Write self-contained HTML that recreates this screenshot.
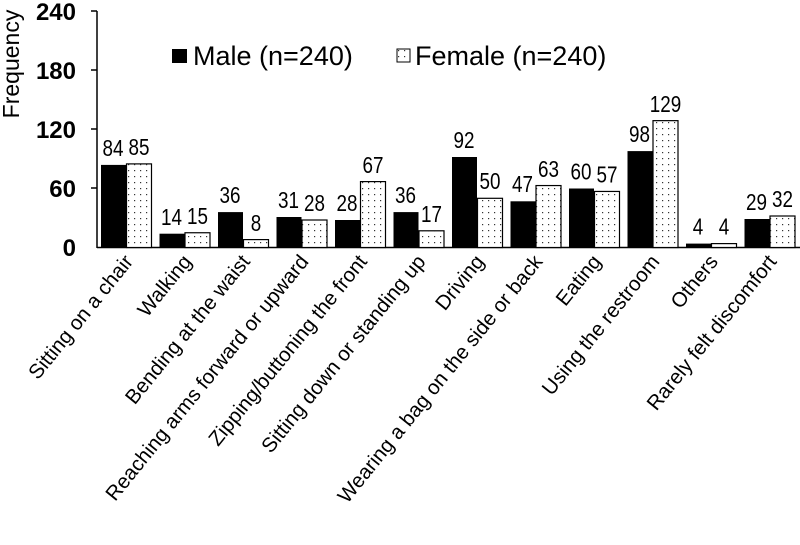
<!DOCTYPE html>
<html><head><meta charset="utf-8"><style>html,body{margin:0;padding:0;background:#fff}svg{display:block}</style></head>
<body>
<svg width="800" height="545" xmlns="http://www.w3.org/2000/svg" font-family="Liberation Sans, Arial, sans-serif">
<defs>
<pattern id="dots" width="6" height="6" patternUnits="userSpaceOnUse">
<rect width="6" height="6" fill="#fff"/><rect x="2" y="2" width="1.2" height="1.2" fill="#333"/>
</pattern>
</defs>
<g font-weight="bold" font-size="24" text-anchor="end">
<text x="76" y="20">240</text>
<text x="76" y="79">180</text>
<text x="76" y="138">120</text>
<text x="76" y="197">60</text>
<text x="76" y="256">0</text>
</g>
<text transform="translate(19,64) rotate(-90)" font-size="23" text-anchor="middle">Frequency</text>
<line x1="97" y1="11" x2="97" y2="248" stroke="#000" stroke-width="1.5"/>
<line x1="97" y1="247.5" x2="800" y2="247.5" stroke="#000" stroke-width="1.5"/>
<g stroke="#000" stroke-width="1.5">
<line x1="91" y1="11" x2="97" y2="11"/><line x1="91" y1="70" x2="97" y2="70"/><line x1="91" y1="129" x2="97" y2="129"/><line x1="91" y1="188" x2="97" y2="188"/>
</g>
<rect x="172" y="49" width="15" height="14" fill="#000"/>
<text x="193" y="65" font-size="27">Male (n=240)</text>
<rect x="397" y="49" width="13" height="13" fill="url(#dots)" stroke="#000" stroke-width="1"/>
<text x="415" y="65" font-size="27">Female (n=240)</text>

<g fill="#000">
<rect x="101" y="164.9" width="25" height="82.6"/>
<rect x="159.5" y="233.7" width="25" height="13.8"/>
<rect x="218" y="212.1" width="25" height="35.4"/>
<rect x="276.5" y="217" width="25" height="30.5"/>
<rect x="335" y="220" width="25" height="27.5"/>
<rect x="393.5" y="212.1" width="25" height="35.4"/>
<rect x="452" y="157" width="25" height="90.5"/>
<rect x="510.5" y="201.3" width="25" height="46.2"/>
<rect x="569" y="188.5" width="25" height="59"/>
<rect x="627.5" y="151.1" width="25" height="96.4"/>
<rect x="686" y="243.6" width="25" height="3.9"/>
<rect x="744.5" y="219" width="25" height="28.5"/>
</g>
<g fill="url(#dots)" stroke="#000" stroke-width="1.2">
<rect x="126.5" y="163.9" width="25" height="83.6"/>
<rect x="185" y="232.75" width="25" height="14.75"/>
<rect x="243.5" y="239.6" width="25" height="7.9"/>
<rect x="302" y="220" width="25" height="27.5"/>
<rect x="360.5" y="181.6" width="25" height="65.9"/>
<rect x="419" y="230.8" width="25" height="16.7"/>
<rect x="477.5" y="198.3" width="25" height="49.2"/>
<rect x="536" y="185.55" width="25" height="61.95"/>
<rect x="594.5" y="191.45" width="25" height="56.05"/>
<rect x="653" y="120.65" width="25" height="126.85"/>
<rect x="711.5" y="243.6" width="25" height="3.9"/>
<rect x="770" y="216" width="25" height="31.5"/>
</g>
<g font-size="23" text-anchor="middle">
<g transform="translate(113,156) scale(.82,1)"><text>84</text></g>
<g transform="translate(139,155) scale(.82,1)"><text>85</text></g>
<g transform="translate(171.5,225) scale(.82,1)"><text>14</text></g>
<g transform="translate(197.5,224) scale(.82,1)"><text>15</text></g>
<g transform="translate(230,203) scale(.82,1)"><text>36</text></g>
<g transform="translate(256,231) scale(.82,1)"><text>8</text></g>
<g transform="translate(288.5,208) scale(.82,1)"><text>31</text></g>
<g transform="translate(314.5,211) scale(.82,1)"><text>28</text></g>
<g transform="translate(347,211) scale(.82,1)"><text>28</text></g>
<g transform="translate(373,173) scale(.82,1)"><text>67</text></g>
<g transform="translate(405.5,203) scale(.82,1)"><text>36</text></g>
<g transform="translate(431.5,222) scale(.82,1)"><text>17</text></g>
<g transform="translate(464,148) scale(.82,1)"><text>92</text></g>
<g transform="translate(490,189) scale(.82,1)"><text>50</text></g>
<g transform="translate(522.5,192) scale(.82,1)"><text>47</text></g>
<g transform="translate(548.5,177) scale(.82,1)"><text>63</text></g>
<g transform="translate(581,179.5) scale(.82,1)"><text>60</text></g>
<g transform="translate(607,182.5) scale(.82,1)"><text>57</text></g>
<g transform="translate(639.5,142) scale(.82,1)"><text>98</text></g>
<g transform="translate(665.5,112) scale(.82,1)"><text>129</text></g>
<g transform="translate(698,234.5) scale(.82,1)"><text>4</text></g>
<g transform="translate(724,234.5) scale(.82,1)"><text>4</text></g>
<g transform="translate(756.5,210) scale(.82,1)"><text>29</text></g>
<g transform="translate(782.5,207) scale(.82,1)"><text>32</text></g>
</g>
<g font-size="20.5" text-anchor="end">
<text transform="translate(134,262) rotate(-51)">Sitting on a chair</text>
<text transform="translate(192.5,262) rotate(-51)">Walking</text>
<text transform="translate(251,262) rotate(-51)">Bending at the waist</text>
<text transform="translate(309.5,262) rotate(-51)">Reaching arms forward or upward</text>
<text transform="translate(368,262) rotate(-51)">Zipping/buttoning the front</text>
<text transform="translate(426.5,262) rotate(-51)">Sitting down or standing up</text>
<text transform="translate(485,262) rotate(-51)">Driving</text>
<text transform="translate(543.5,262) rotate(-51)">Wearing a bag on the side or back</text>
<text transform="translate(602,262) rotate(-51)">Eating</text>
<text transform="translate(660.5,262) rotate(-51)">Using the restroom</text>
<text transform="translate(719,262) rotate(-51)">Others</text>
<text transform="translate(777.5,262) rotate(-51)">Rarely felt discomfort</text>
</g>
</svg>
</body></html>
